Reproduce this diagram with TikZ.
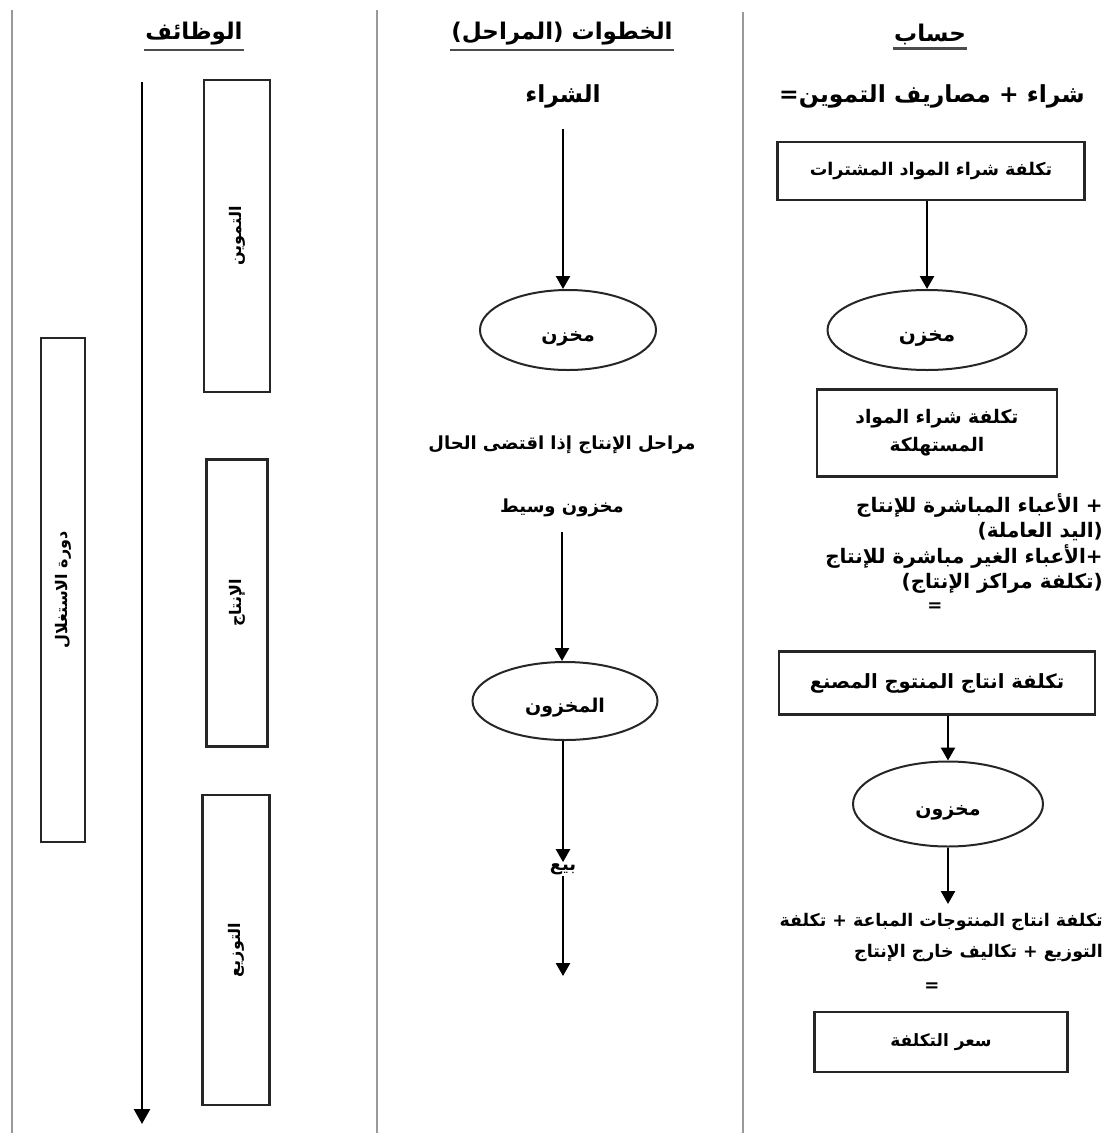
\documentclass[tikz,border=0pt]{standalone}
\usepackage{fontspec}
\usetikzlibrary{positioning, arrows.meta, shapes.geometric}
\TeXXeTstate=1
\newfontfamily\arabicfont[Script=Arabic]{DejaVu Sans}
\newcommand{\artxt}[1]{{\arabicfont\bfseries\beginR #1\endR}}

\begin{document}
\begin{tikzpicture}[
  x=1pt, y=-1pt,
  box/.style={draw=black!85, line width=2.2pt, align=center, inner sep=2pt, font=\fontsize{17.5}{28}\selectfont},
  store/.style={ellipse, draw=black!85, line width=2pt, inner sep=0pt, text height=24pt, text depth=1pt, font=\fontsize{19}{22}\selectfont},
  vbox/.style={draw=black!85, line width=2.2pt, rotate=90, inner sep=0pt, font=\fontsize{16}{18}\selectfont},
  txt/.style={align=center, inner sep=1pt, font=\fontsize{18}{25}\selectfont},
  head/.style={inner sep=1pt, font=\fontsize{23}{26}\selectfont},
  uline/.style={draw=black!70, line width=2.4pt},
  arrow/.style={-{Triangle[width=14pt, length=13pt]}, line width=2.5pt},
  sep/.style={draw=black!40, line width=2pt}
]
\useasboundingbox (0,0) rectangle (1110,1133);

% Column separators
\draw[sep] (12,10) -- (12,1133);
\draw[sep] (377,10) -- (377,1133);
\draw[sep] (743,12) -- (743,1133);

% Headers
\node[head] (hfunc) at (194,34) {\artxt{الوظائف}};
\node[head] (hstep) at (562,34) {\artxt{الخطوات (المراحل)}};
\node[head] (hcalc) at (930,34) {\artxt{حساب}};
\draw[uline] ([yshift=-3pt]hfunc.south west) -- ([yshift=-3pt]hfunc.south east);
\draw[uline] ([yshift=-3pt]hstep.south west) -- ([yshift=-3pt]hstep.south east);
\draw[uline] ([yshift=-3pt]hcalc.south west) -- ([yshift=-3pt]hcalc.south east);

% Functions (left column)
\node[vbox, minimum width=312pt, minimum height=66pt] (supply) at (237,236) {\artxt{التموين}};
\node[vbox, minimum width=287pt, minimum height=61pt] (prod) at (237,603) {\artxt{الإنتاج}};
\node[vbox, minimum width=310pt, minimum height=67pt] (distr) at (236,950) {\artxt{التوزيع}};
\node[vbox, minimum width=504pt, minimum height=44pt] (cycle) at (63,590) {\artxt{دورة الاستغلال}};
\coordinate (ltop) at (142,82);
\coordinate (lbot) at (142,1124);
\draw[arrow, -{Triangle[width=16pt, length=15pt]}] (ltop) -- (lbot);

% Steps (middle column)
\node[head, font=\fontsize{23.5}{26}\selectfont] (mbuy) at (563,96) {\artxt{الشراء}};
\node[store, minimum width=176pt, minimum height=80pt] (mstore1) at (568,330) {\artxt{مخزن}};
\node[txt] (mphase) at (562,445) {\artxt{مراحل الإنتاج إذا اقتضى الحال}};
\node[txt] (minter) at (562,508) {\artxt{مخزون وسيط}};
\node[store, minimum width=185pt, minimum height=78pt] (mstore2) at (565,701) {\artxt{المخزون}};
\node[txt] (msell) at (563,869) {\artxt{بيع}};
\coordinate (mend) at (563,976);

\draw[arrow, shorten <=20pt] (mbuy.south) -- (mbuy.south |- mstore1.north);
\draw[arrow, shorten <=14pt] (minter.south) -- (minter.south |- mstore2.north);
\draw[arrow] (mstore2.south -| msell.north) -- (msell.north);
\draw[arrow] (msell.south) -- (mend);

% Calculation (right column)
\node[head, font=\fontsize{23.5}{28}\selectfont] (rsum) at (932,96) {\artxt{شراء + مصاريف التموين=}};
\node[box, minimum width=307pt, minimum height=58pt] (rbuy) at (931,171) {\artxt{تكلفة شراء المواد المشترات}};
\node[store, font=\fontsize{20}{22}\selectfont, minimum width=199pt, minimum height=80pt] (rstore1) at (927,330) {\artxt{مخزن}};
\node[box, font=\fontsize{18.7}{28}\selectfont, minimum width=240pt, minimum height=87pt] (rused) at (937,433) {\artxt{تكلفة شراء المواد}\\\artxt{المستهلكة}};
\node[txt, align=right, anchor=north east, font=\fontsize{20}{25.5}\selectfont] (rcharges) at (1104,492) {%
  \artxt{+ الأعباء المباشرة للإنتاج}\\
  \artxt{(اليد العاملة)}\\
  \artxt{+الأعباء الغير مباشرة للإنتاج}\\
  \artxt{(تكلفة مراكز الإنتاج)}};
\node[txt] (req1) at (935,607) {\artxt{=}};
\node[box, font=\fontsize{19.6}{28}\selectfont, minimum width=316pt, minimum height=63pt] (rmade) at (937,683) {\artxt{تكلفة انتاج المنتوج المصنع}};
\node[store, minimum width=190pt, minimum height=85pt] (rstore2) at (948,804) {\artxt{مخزون}};
\node[txt, align=right, anchor=north east, font=\fontsize{17.4}{31}\selectfont] (rsold) at (1104,912) {%
  \artxt{تكلفة انتاج المنتوجات المباعة + تكلفة}\\
  \artxt{التوزيع + تكاليف خارج الإنتاج}};
\node[txt] (req2) at (932,987) {\artxt{=}};
\node[box, font=\fontsize{17}{28}\selectfont, minimum width=253pt, minimum height=60pt] (rprice) at (941,1042) {\artxt{سعر التكلفة}};

\draw[arrow] (rstore1.north |- rbuy.south) -- (rstore1.north);
\draw[arrow] (rstore2.north |- rmade.south) -- (rstore2.north);
\draw[arrow, shorten >=8pt] (rstore2.south) -- (rstore2.south |- rsold.north);

\end{tikzpicture}
\end{document}
